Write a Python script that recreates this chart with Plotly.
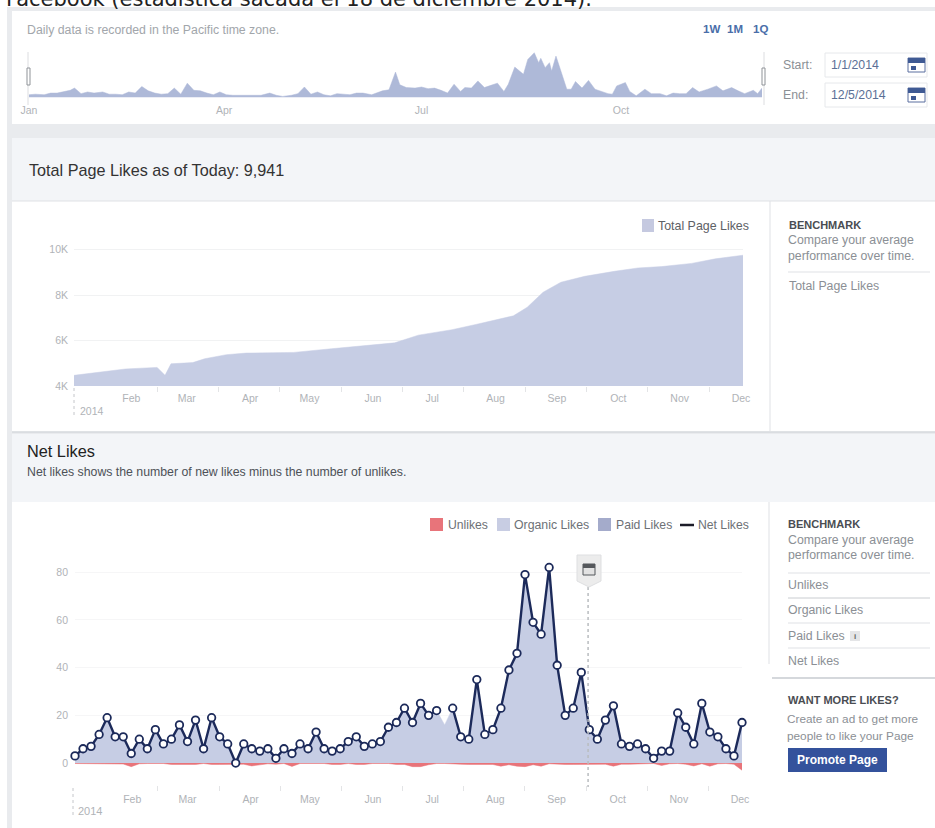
import pandas as pd
import plotly.graph_objects as go

# ---------- data ----------
mini_days = [0,3,7,10,13,16,19,21,24,27,30,34,37,40,43,46,49,52,55,58,61,64,67,70,73,76,79,82,85,88,91,94,97,101,104,107,111,
             114,117,121,124,127,130,133,136,139,142,145,148,151,154,158,160,163,166,169,171,174,178,181,184,187,190,193,196,199,201,204,207,210,213,216,219,221,224,
             228,230,233,235,236,238,240,241,243,245,248,250,252,255,258,261,264,267,269,271,275,277,280,284,287,291,294,297,300,303,306,309,313,317,320,324,327,330,334,336,338]
mini_values = [5,6,5,8,8,11,13,17,7,10,8,10,6,6,5,10,8,20,12,8,6,7,17,6,26,13,12,8,5,10,5,4,4,3,3,4,8,
               4,2,4,7,19,6,10,5,3,7,6,5,8,8,5,8,12,14,46,23,18,17,19,16,17,13,8,24,11,18,17,30,18,22,26,11,24,55,
               42,69,81,63,71,54,63,48,75,51,15,15,29,17,31,15,11,7,6,21,27,11,3,15,7,7,3,8,7,7,18,10,15,21,12,18,12,7,13,7,17]
mini_ticks = ["2014-01-01", "2014-04-01", "2014-07-01", "2014-10-01"]
mini_labels = ["Jan", "Apr", "Jul", "Oct"]

total_dates = ["2014-01-01","2014-01-27","2014-02-12","2014-02-16","2014-02-19","2014-03-02","2014-03-08","2014-03-19","2014-03-29",
               "2014-04-22","2014-05-11","2014-06-12","2014-06-24","2014-07-11","2014-07-23","2014-08-04","2014-08-11","2014-08-18",
               "2014-08-26","2014-09-04","2014-09-16","2014-10-01","2014-10-13","2014-10-25","2014-11-09","2014-11-21","2014-12-03","2014-12-05"]
total_likes = [4470,4750,4820,4470,4980,5030,5200,5380,5450,5480,5640,5900,6240,6480,6710,6950,7090,7470,8130,8570,8830,9050,9200,9260,9400,9600,9730,9760]

net_likes = [3,6,7,12,19,11,11,4,10,6,14,8,10,16,9,18,6,19,11,8,0,8,6,5,6,2,6,4,8,6,13,6,5,6,9,11,7,8,9,15,17,
             23,17,25,20,22,None,23,11,10,35,12,14,23,39,46,79,59,54,82,41,20,23,38,14,10,18,24,8,7,8,6,2,5,5,21,15,8,25,13,11,6,3,17]
organic_likes = [3,6,7,12,19,11,11,4,10,6,14,8,10,16,9,18,6,19,11,8,0,8,6,5,6,2,6,4,8,6,13,6,5,6,9,11,7,8,9,15,17,
                 23,17,25,20,22,16,23,11,10,35,12,14,23,39,46,79,59,54,82,41,20,23,38,14,10,18,24,8,7,8,6,2,5,5,21,15,8,25,13,11,6,3,17]
unlikes = [-.2,-.2,-.2,-.2,-.2,-.2,-.4,-1.5,-.3,-.2,
           -.2,-.2,-.6,-.6,-.6,-.6,-.2,-.6,-.6,-.5,
           -.3,-.5,-1.2,-.8,-.3,-.5,-.2,-1.4,-.2,-.2,
           -.2,-.2,-.6,-.6,-.2,-.6,-.6,-.2,-.2,-.2,
           -.6,-.6,-1.5,-1.5,-.7,-.2,-.2,-.2,-.5,-.6,
           -.6,-.6,-.6,-1.3,-.7,-1.3,-1.5,-.7,-1.3,-.3,
           -.6,-.6,-.6,-.6,-.6,-.5,-.5,-1.3,-.5,-.5,
           -.5,-.5,-.2,-1,-.3,-.2,-.5,-1.2,-.3,-1.3,-.3,-.2,-.5,-3]
net_dates = pd.date_range("2014-01-01", "2014-12-05", periods=len(net_likes))

month_ticks = ["2014-01-30","2014-02-27","2014-03-31","2014-04-30","2014-06-01","2014-07-01",
               "2014-08-02","2014-09-02","2014-10-03","2014-11-03","2014-12-04"]
month_labels = ["Feb","Mar","Apr","May","Jun","Jul","Aug","Sep","Oct","Nov","Dec"]
minor_ticks = ["2014-02-12","2014-03-15","2014-04-15","2014-05-16","2014-06-16","2014-07-17",
               "2014-08-17","2014-09-17","2014-10-18","2014-11-18"]
total_yticks = [4000, 6000, 8000, 10000]
total_ylabels = ["4K", "6K", "8K", "10K"]
net_yticks = [0, 20, 40, 60, 80]
marker_date = "2014-09-18"

# ---------- colours ----------
PAGE = "#e9ebee"; BAND = "#f3f5f8"; LINE = "#dfe1e5"
AREA = "#c6cde4"; MINI = "#aeb9d8"; RED = "#e8747a"; NAVY = "#1c2a5a"; PAID = "#a4abcb"
GREY = "#b0b3b7"; TXT = "#8b8f95"; FONT = "Liberation Sans"

W, H = 935, 828
X = lambda p: p / W
Y = lambda p: 1 - p / H
shapes, notes = [], []

def rect(x0, y0, x1, y1, fill, line=None, layer="below"):
    shapes.append(dict(type="rect", xref="paper", yref="paper", x0=X(x0), x1=X(x1), y0=Y(y0), y1=Y(y1),
                       fillcolor=fill, line=dict(color=line or fill, width=1 if line else 0), layer=layer))

def hline(x0, x1, y, color=LINE, width=1):
    shapes.append(dict(type="line", xref="paper", yref="paper", x0=X(x0), x1=X(x1), y0=Y(y), y1=Y(y),
                       line=dict(color=color, width=width), layer="below"))

def vline(x, y0, y1, color=LINE, width=1, dash=None, layer="below"):
    shapes.append(dict(type="line", xref="paper", yref="paper", x0=X(x), x1=X(x), y0=Y(y0), y1=Y(y1),
                       line=dict(color=color, width=width, dash=dash or "solid"), layer=layer))

def text(x, y, s, size=11, color=TXT, bold=False, anchor="left", family=FONT):
    notes.append(dict(xref="paper", yref="paper", x=X(x), y=Y(y), text=f"<b>{s}</b>" if bold else s, showarrow=False,
                      xanchor=anchor, yanchor="middle", align=anchor, borderpad=0, borderwidth=0,
                      font=dict(size=size, color=color, family=family)))

def calendar(x, y):
    rect(x, y, x + 17, y + 14, "#ffffff", "#5a6f9f", layer="above")
    rect(x, y, x + 17, y + 5, "#3f5a94", layer="above")
    rect(x + 3, y + 8, x + 8, y + 12, "#3f5a94", layer="above")

# ---------- page furniture ----------
rect(7, 7, W, H, PAGE)
rect(12, 11, W, 124, "#ffffff")
rect(12, 138, W, 201, BAND)
rect(12, 201, W, 432, "#ffffff")
rect(12, 434, W, 502, BAND)
rect(12, 502, W, H, "#ffffff")
hline(12, W, 201); hline(12, W, 432, "#d5d8dc", 1.5)
vline(770, 201, 432); vline(769, 502, 664)

text(6, -1, "Facebook (estadística sacada el 18 de diciembre 2014).", 21, "#222222", family="DejaVu Sans")
text(27, 30, "Daily data is recorded in the Pacific time zone.", 12.3, "#a2a6ab")
text(703, 29, "1W", 11.5, "#4a6ea9", True); text(727, 29, "1M", 11.5, "#4a6ea9", True); text(753, 29, "1Q", 11.5, "#4a6ea9", True)
text(783, 65, "Start:", 12.3, "#8b8f95"); text(783, 95, "End:", 12.3, "#8b8f95")
rect(825, 53, 927, 77, "#ffffff", "#e6e8eb"); rect(825, 83, 927, 107, "#ffffff", "#e6e8eb")
text(831, 65, "1/1/2014", 12.3, "#5b7096"); text(831, 95, "12/5/2014", 12.3, "#5b7096")
calendar(908, 58); calendar(908, 88)
vline(28, 52, 105, "#dcdde0"); vline(764, 52, 105, "#dcdde0")
rect(27, 68, 30, 85, "#ffffff", "#8f9398", layer="above"); rect(762, 68, 765, 85, "#ffffff", "#8f9398", layer="above")

text(29, 170, "Total Page Likes as of Today: 9,941", 16.2, "#333333")
rect(642, 219, 654, 232, "#c5c9e0")
text(658, 226, "Total Page Likes", 12.4, "#5d6166")
text(789, 225, "BENCHMARK", 11, "#4a4d52", True)
text(788, 240, "Compare your average", 12.3, TXT); text(788, 256, "performance over time.", 12.3, TXT)
hline(788, 930, 272)
text(789, 286, "Total Page Likes", 12.3, TXT)

text(27, 451, "Net Likes", 16.3, "#222222")
text(27, 472, "Net likes shows the number of new likes minus the number of unlikes.", 12.3, "#4d5157")

rect(430, 518, 443, 531, RED); text(448, 525, "Unlikes", 12.2, "#6d7176")
rect(497, 518, 510, 531, "#c8cde3"); text(514, 525, "Organic Likes", 12.3, "#6d7176")
rect(598, 518, 611, 531, PAID); text(616, 525, "Paid Likes", 12.2, "#6d7176")
hline(680, 694, 525, "#1c1c28", 2.5); text(698, 525, "Net Likes", 12.2, "#6d7176")

text(788, 524, "BENCHMARK", 11, "#4a4d52", True)
text(788, 540, "Compare your average", 12.3, TXT); text(788, 555, "performance over time.", 12.3, TXT)
hline(788, 930, 573); text(788, 585, "Unlikes", 12.3, TXT)
hline(788, 930, 598, "#c9ccd0"); text(788, 610, "Organic Likes", 12.3, TXT)
hline(788, 930, 623); text(788, 636, "Paid Likes", 12.3, TXT)
rect(850, 631, 860, 641, "#e4e5e7"); text(855, 636, "i", 8, "#666666", True, "center")
hline(788, 930, 648); text(788, 661, "Net Likes", 12.3, TXT)
hline(772, W, 678, "#d5d8dc", 2)
text(788, 700, "WANT MORE LIKES?", 11, "#4a4d52", True)
text(787, 719, "Create an ad to get more", 11.8, TXT); text(787, 736, "people to like your Page", 11.8, TXT)
rect(788, 748, 887, 772, "#34529c")
text(837.5, 760, "Promote Page", 12, "#ffffff", True, "center")

# year markers and the event flag
vline(74, 388, 415, "#c4c6ca", 1, "dot"); text(80, 411, "2014", 10.5, GREY)
vline(73, 788, 815, "#c4c6ca", 1, "dot"); text(78, 811, "2014", 11, GREY)
shapes.append(dict(type="line", xref="x3", yref="paper", x0=marker_date, x1=marker_date, y0=Y(587), y1=Y(787),
                   line=dict(color="#b9bcc0", width=1.5, dash="dot"), layer="above"))
shapes.append(dict(type="path", xref="paper", yref="paper", layer="above",
                   path=f"M{X(577)},{Y(555)} L{X(601)},{Y(555)} L{X(601)},{Y(581)} L{X(589)},{Y(587)} L{X(577)},{Y(581)} Z",
                   fillcolor="#ececec", line=dict(color="#dedfe1", width=1)))
rect(583, 564, 595, 575, "#e2e2e2", "#55585c", layer="above")
rect(583, 564, 595, 568, "#55585c", layer="above")

# ---------- traces ----------
fig = go.Figure()
fig.add_trace(go.Scatter(x=pd.Timestamp("2014-01-01") + pd.to_timedelta(mini_days, unit="D"), y=mini_values, mode="lines",
                         fill="tozeroy", fillcolor=MINI, line=dict(color=MINI, width=0.5), hoverinfo="skip",
                         xaxis="x", yaxis="y", showlegend=False, name="Daily likes"))
fig.add_trace(go.Scatter(x=total_dates, y=total_likes, mode="lines", fill="tozeroy", fillcolor=AREA,
                         line=dict(color=AREA, width=0.5), xaxis="x2", yaxis="y2", showlegend=False, name="Total Page Likes"))
fig.add_trace(go.Scatter(x=net_dates, y=organic_likes, mode="lines", fill="tozeroy", fillcolor=AREA,
                         line=dict(color=AREA, width=0.5), xaxis="x3", yaxis="y3", showlegend=False, name="Organic Likes"))
fig.add_trace(go.Scatter(x=net_dates, y=unlikes, mode="lines", fill="tozeroy", fillcolor=RED,
                         line=dict(color=RED, width=0.5), xaxis="x3", yaxis="y3", showlegend=False, name="Unlikes"))
fig.add_trace(go.Scatter(x=net_dates, y=net_likes, mode="lines+markers", connectgaps=False, cliponaxis=False,
                         line=dict(color=NAVY, width=2.4),
                         marker=dict(size=7.5, color="#ffffff", line=dict(color=NAVY, width=1.8)),
                         xaxis="x3", yaxis="y3", showlegend=False, name="Net Likes"))

tick_font = dict(size=10.5, color=GREY, family=FONT)
range_x = ["2014-01-01", "2014-12-05"]
def date_axis(px0, px1, tickvals, ticktext, standoff, minor=None, anchor=None):
    ax = dict(domain=[X(px0), X(px1)], range=range_x, type="date", tickmode="array", tickvals=tickvals, ticktext=ticktext,
              showgrid=False, zeroline=False, showline=False, ticks="", tickfont=tick_font, anchor=anchor,
              ticklabeloverflow="allow", automargin=False, ticklabelstandoff=standoff)
    if minor:
        ax["minor"] = dict(tickmode="array", tickvals=minor, ticks="outside", ticklen=5, tickcolor="#e3e4e6", showgrid=False)
    return ax

fig.update_layout(
    width=W, height=H, margin=dict(l=0, r=0, t=0, b=0, pad=0), paper_bgcolor="#ffffff", plot_bgcolor="rgba(0,0,0,0)",
    showlegend=False, shapes=shapes, annotations=notes, font=dict(family=FONT),
    xaxis=date_axis(29, 762, mini_ticks, mini_labels, 5, anchor="y"),
    yaxis=dict(domain=[Y(97.5), Y(50)], range=[0, 86], visible=False, anchor="x", automargin=False),
    xaxis2=date_axis(74, 743, month_ticks, month_labels, 4, minor_ticks, "y2"),
    yaxis2=dict(domain=[Y(386), Y(240)], range=[4000, 10430], tickmode="array", tickvals=total_yticks, ticktext=total_ylabels,
                gridcolor="#f1f2f3", zeroline=False, showline=False, ticks="", tickfont=tick_font, anchor="x2", automargin=False,
                ticklabelstandoff=5),
    xaxis3=date_axis(75, 742, month_ticks, month_labels, 6, minor_ticks, "y3"),
    yaxis3=dict(domain=[Y(785), Y(545)], range=[-9.2, 91.4], tickmode="array", tickvals=net_yticks,
                gridcolor="#f6f6f7", zeroline=False, showline=False, ticks="", tickfont=tick_font, anchor="x3", automargin=False,
                ticklabelstandoff=6),
)
fig.write_html("out.html", config={"displayModeBar": False},
               post_script="var g=document.getElementById('{plot_id}');document.documentElement.style.margin='0';document.body.style.margin='0';g.parentNode.style.margin='0';g.style.position='fixed';g.style.left='0';g.style.top='0';")
